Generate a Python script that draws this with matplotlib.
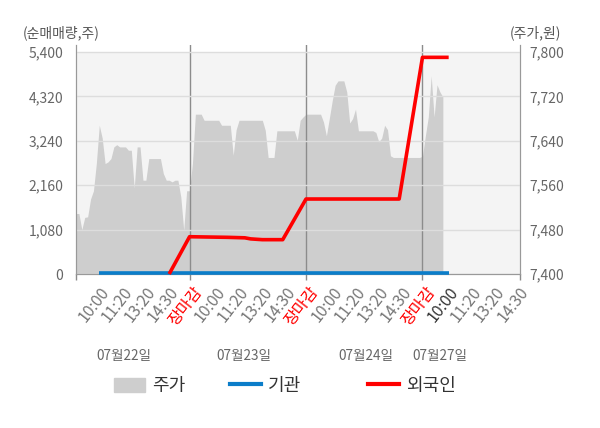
import numpy as np
import matplotlib.pyplot as plt
from matplotlib.patches import Patch
from matplotlib.lines import Line2D

plt.rcParams['font.family'] = ['Noto Sans CJK KR', 'DejaVu Sans']

# 주가 (원), one value per time slot
price = [7509, 7509, 7480, 7502, 7503, 7535, 7550, 7600, 7668, 7645,
         7599, 7602, 7608, 7629, 7633, 7629, 7629, 7629, 7623, 7623,
         7555, 7629, 7629, 7569, 7569, 7608, 7608, 7608, 7608, 7608,
         7581, 7569, 7569, 7566, 7569, 7569, 7539, 7479, 7550, 7550,
         7600, 7688, 7688, 7688, 7677, 7677, 7677, 7677, 7677, 7677,
         7668, 7668, 7668, 7668, 7614, 7660, 7677, 7677, 7677, 7677,
         7677, 7677, 7677, 7677, 7677, 7659, 7610, 7610, 7610, 7658,
         7658, 7658, 7658, 7658, 7658, 7658, 7641, 7677, 7683, 7688,
         7688, 7688, 7688, 7688, 7688, 7674, 7649, 7680, 7712, 7740,
         7748, 7748, 7748, 7728, 7672, 7680, 7697, 7658, 7658, 7658,
         7658, 7658, 7658, 7655, 7638, 7645, 7668, 7660, 7613, 7610,
         7610, 7610, 7610, 7610, 7610, 7610, 7610, 7610, 7610, 7612,
         7649, 7683, 7757, 7683, 7741, 7728, 7719]

# 순매매량 (주)
foreign_slots = [32, 39, 45, 52, 58, 60, 64, 71, 79, 111, 119, 128]
foreign_vals = [0, 907, 900, 892, 880, 854, 835, 835, 1824, 1824, 5270, 5270]
inst_slots = [8, 128]
inst_vals = [30, 30]

tick_labels = ['10:00', '11:20', '13:20', '14:30', '장마감'] * 3 + ['10:00', '11:20', '13:20', '14:30']
day_labels = ['07월22일', '07월23일', '07월24일', '07월27일']
day_starts = [39, 79, 119]

fig = plt.figure(figsize=(6, 4.28), dpi=100)
ax = fig.add_axes([76 / 600, 154 / 428, 444 / 600, 229 / 428])
ax2 = ax.twinx()
ax.set_zorder(2)
ax2.set_zorder(1)
ax.patch.set_visible(False)
ax2.patch.set_visible(False)

# price area on the right axis
ax2.axhspan(7400, 7800, color='#f4f4f4', lw=0, zorder=0)
ax2.fill_between(np.arange(len(price)), price, 7400, color='#cecece', lw=0, zorder=1)
ax2.set_ylim(7400, 7400 + 400 * 229 / 222)
ax2.set_yticks(np.arange(7400, 7801, 80))
ax2.set_yticklabels([f'{v:,}' for v in range(7400, 7801, 80)])

# net buying lines on the left axis
ax.set_ylim(0, 5400 * 229 / 222)
ax.set_yticks(np.arange(0, 5401, 1080))
ax.set_yticklabels([f'{v:,}' for v in range(0, 5401, 1080)])
ax.grid(axis='y', color='#dddddd', lw=1, zorder=1)
for d in day_starts:
    ax.axvline(d, color='#8c8c8c', lw=1, zorder=1.5)
ax.plot(inst_slots, inst_vals, color='#0b7dc9', lw=2.6, zorder=3,
        solid_capstyle='butt', clip_on=False)
ax.plot(foreign_slots, foreign_vals, color='#ff0000', lw=2.6, zorder=4,
        solid_capstyle='butt', clip_on=False)

ax.set_xlim(0, 152.5)
ticks = np.arange(1, len(tick_labels) + 1) * 8
ax.set_xticks(ticks)
ax.set_xticklabels(tick_labels, rotation=52, ha='right', va='top',
                   rotation_mode='anchor', fontsize=11.5, color='#777777')
for lab in ax.get_xticklabels():
    if lab.get_text() == '장마감':
        lab.set_color('#ff0000')
ax.get_xticklabels()[15].set_color('#333333')
ax.tick_params(axis='x', length=0, pad=7)
ax.set_xticks([0] + day_starts + [152.5], minor=True)
ax.tick_params(axis='x', which='minor', length=4, color='#8c8c8c', width=1)

for a in (ax, ax2):
    a.tick_params(axis='y', length=0, labelsize=10, labelcolor='#666666')
    a.spines['top'].set_visible(False)
    for s in ('left', 'right', 'bottom'):
        a.spines[s].set_color('#999999')
ax.tick_params(axis='y', pad=9)
ax2.tick_params(axis='y', pad=7)

for lab, xp in zip(day_labels, [16.5, 57.7, 99.6, 125]):
    ax.text(xp, -0.356, lab, transform=ax.get_xaxis_transform(), ha='center',
            va='center', fontsize=9.8, color='#666666')

fig.text(61 / 600, 1 - 33 / 428, '(순매매량,주)', ha='center', va='center', fontsize=10, color='#555555')
fig.text(535 / 600, 1 - 33 / 428, '(주가,원)', ha='center', va='center', fontsize=10, color='#555555')

# legend, one entry at a time
entries = [(Patch(color='#cecece'), '주가', 114),
           (Line2D([], [], color='#0b7dc9', lw=3), '기관', 230),
           (Line2D([], [], color='#ff0000', lw=3), '외국인', 368)]
for h, txt, xl in entries:
    fig.legend([h], [txt], loc='center left', bbox_to_anchor=(xl / 600, 1 - 386 / 428),
               frameon=False, borderpad=0, borderaxespad=0, handlelength=1.7,
               handleheight=0.85, handletextpad=0.4, fontsize=13, labelcolor='#333333')

fig.savefig('out.png', dpi=100, facecolor='white')
